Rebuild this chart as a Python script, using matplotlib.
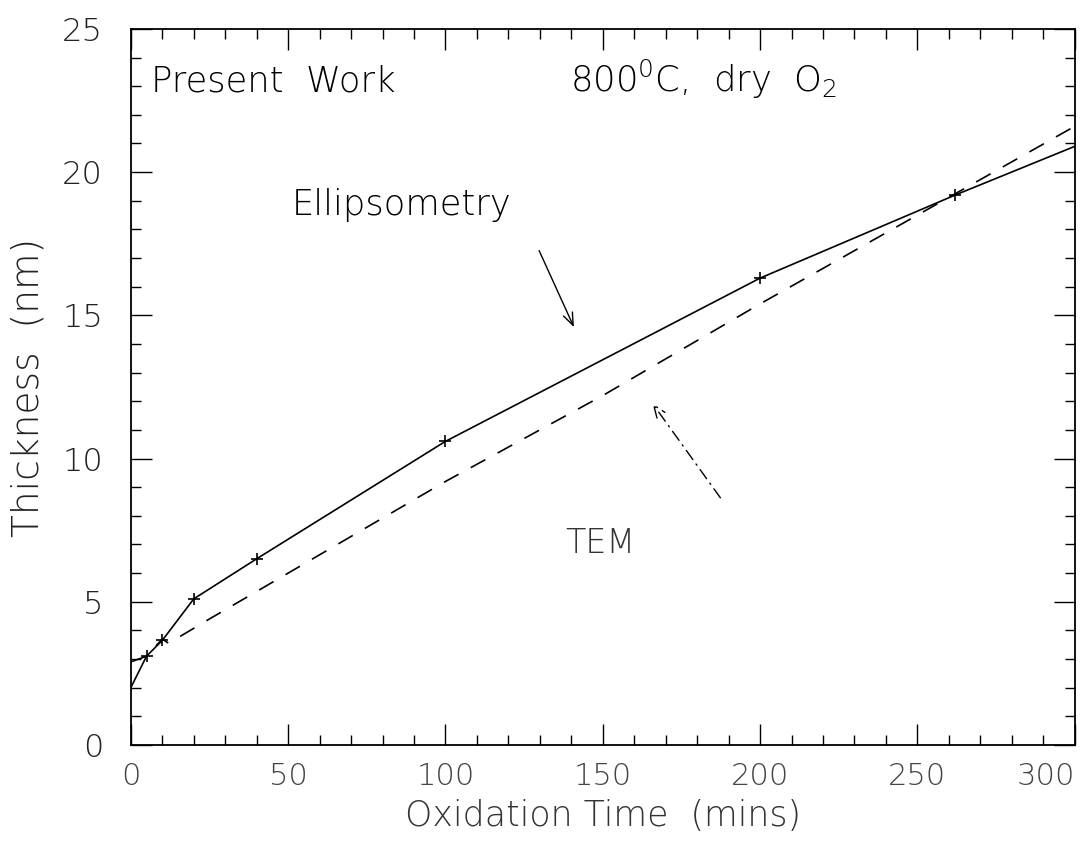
import numpy as np
import matplotlib
matplotlib.use("Agg")
import matplotlib.pyplot as plt
from matplotlib.ticker import MultipleLocator

# Ellipsometry (solid line, + markers)
ell_time = [0, 5, 10, 20, 40, 100, 200, 262, 300]
ell_thick = [2.0, 3.1, 3.65, 5.1, 6.5, 10.6, 16.3, 19.2, 20.9]
ell_marked = [1, 2, 3, 4, 5, 6, 7]

# TEM (dashed line)
tem_time = [0, 5, 10, 12, 25, 50, 100, 150, 200, 250, 300]
tem_thick = [2.9, 3.1, 3.7, 3.55, 4.4, 6.0, 9.2, 12.2, 15.4, 18.5, 21.6]

plt.rcParams['font.family'] = 'DejaVu Sans'
plt.rcParams['mathtext.fontset'] = 'custom'
plt.rcParams['mathtext.rm'] = 'DejaVu Sans:light'
plt.rcParams['lines.scale_dashes'] = False

fig = plt.figure(figsize=(10.9, 8.51), dpi=100)
ax = fig.add_axes([0.120, 0.1246, 0.866, 0.8414])

ax.plot(ell_time, ell_thick, color='black', lw=1.2,
        marker='+', markersize=9, markeredgewidth=1.2, markevery=ell_marked)
ax.plot(tem_time, tem_thick, color='black', lw=1.2, dashes=(12, 10))

ax.set_xlim(0, 300)
ax.set_ylim(0, 25)
ax.xaxis.set_major_locator(MultipleLocator(50))
ax.xaxis.set_minor_locator(MultipleLocator(10))
ax.yaxis.set_major_locator(MultipleLocator(5))
ax.yaxis.set_minor_locator(MultipleLocator(1))
ax.tick_params(which='both', direction='in', top=True, right=True, width=1.0)
ax.tick_params(which='major', length=15)
ax.tick_params(which='minor', length=7)
ax.tick_params(axis='x', which='major', pad=12, labelsize=22, labelcolor='#444444')
ax.tick_params(axis='y', which='major', pad=20, labelsize=23, labelcolor='#222222')
for lab in ax.get_xticklabels() + ax.get_yticklabels():
    lab.set_fontweight('light')
# the 300 label sits against the right edge of the figure
locs = list(ax.xaxis.get_majorticklocs())
ticks = ax.xaxis.get_major_ticks(len(locs))
for loc, tk in zip(locs, ticks):
    if abs(loc - 300) < 1e-6:
        tk.label1.set_horizontalalignment('right')
for s in ax.spines.values():
    s.set_linewidth(1.3)

ax.set_xlabel('Oxidation Time  (mins)', fontsize=25, fontweight='light', labelpad=6, color='#333333')
ax.set_ylabel('Thickness  (nm)', fontsize=27, fontweight='light', labelpad=12, color='#222222')

ax.text(6.5, 22.8, 'Present  Work', fontsize=25.5, fontweight='light')
ax.text(139.5, 22.8, r'800$^{\mathrm{0}}$C,  dry  O$_{\mathrm{2}}$', fontsize=25.5, fontweight='light')
ax.text(51, 18.85, 'Ellipsometry', fontsize=25.5, fontweight='light', va='center')
ax.text(138, 7.05, 'TEM', fontsize=24, fontweight='light', va='center', color='#333333')

ax.annotate('', xy=(141.2, 14.5), xytext=(129.4, 17.35),
            arrowprops=dict(arrowstyle='->,head_length=0.9,head_width=0.35', color='black', lw=1.0))
ax.annotate('', xy=(165.3, 12.0), xytext=(187.9, 8.55),
            arrowprops=dict(arrowstyle='->,head_length=0.9,head_width=0.35', color='black', lw=1.0,
                            linestyle=(0, (8, 4, 1, 4))))

fig.savefig('out.png', dpi=100)
